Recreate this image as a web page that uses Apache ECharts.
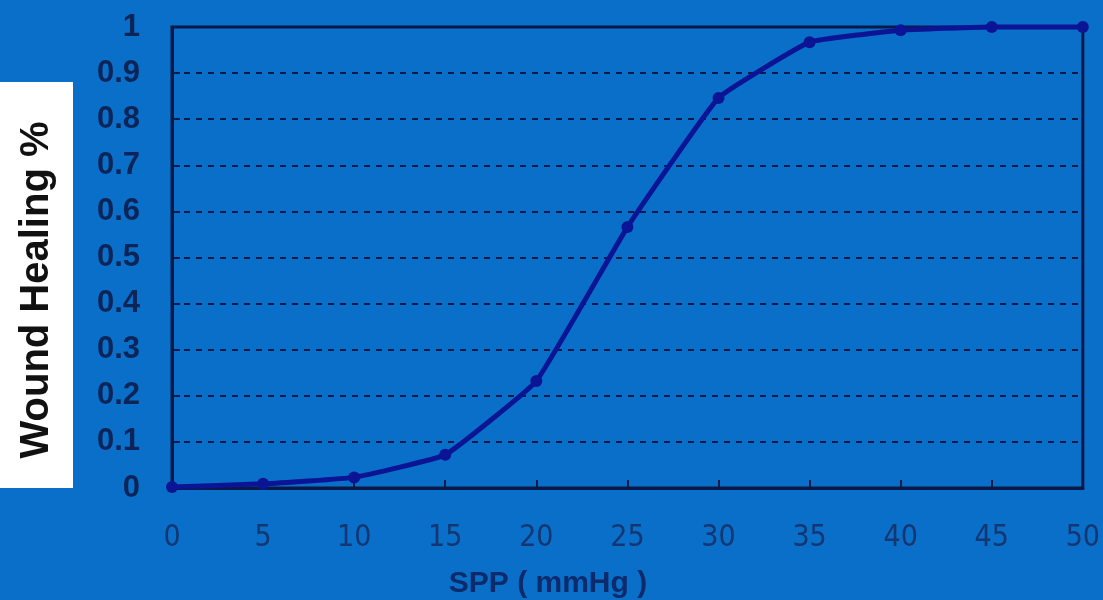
<!DOCTYPE html>
<html>
<head>
<meta charset="utf-8">
<script src="https://cdn.jsdelivr.net/npm/echarts@6/dist/echarts.min.js"></script>
<style>
  html, body { margin: 0; padding: 0; background: #0a6fc8; }
  #main { width: 1103px; height: 600px; }
</style>
</head>
<body>
<div id="main"></div>
<script>
// SPP (mmHg) vs wound healing probability
const sppValues = [0, 5, 10, 15, 20, 25, 30, 35, 40, 45, 50];
const healingValues = [0.002, 0.009, 0.023, 0.072, 0.232, 0.566, 0.846, 0.967, 0.993, 1.0, 1.0];

const chart = echarts.init(document.getElementById('main'));

const option = {
  backgroundColor: '#0a6fc8',
  animation: false,
  grid: {
    left: 172, right: 20, top: 27, bottom: 112,
    show: true,
    borderColor: '#0a1a48',
    borderWidth: 3
  },
  xAxis: {
    type: 'value',
    min: 0, max: 50, interval: 5,
    axisLine: { lineStyle: { color: '#0a1a48', width: 3 } },
    axisTick: { inside: true, length: 8, lineStyle: { color: '#0a1a48', width: 2 } },
    axisLabel: { margin: 35, color: '#143672', fontSize: 30, fontFamily: 'Liberation Sans Narrow, DejaVu Sans Condensed, sans-serif' },
    splitLine: { show: false }
  },
  yAxis: {
    type: 'value',
    min: 0, max: 1, interval: 0.1,
    axisLine: { show: true, lineStyle: { color: '#0a1a48', width: 3 } },
    axisTick: { show: true, inside: true, length: 8, lineStyle: { color: '#0a1a48', width: 2 } },
    axisLabel: {
      margin: 32, color: '#0c2458', fontSize: 31, fontWeight: 'bold',
      fontFamily: 'Liberation Sans, Arial',
      formatter: v => (Math.round(v * 10) / 10).toString()
    },
    splitLine: { show: true, lineStyle: { color: '#0a1a48', type: [6, 6], width: 2 } }
  },
  graphic: [
    { type: 'rect', left: 0, top: 82, shape: { width: 73, height: 406 }, style: { fill: '#ffffff' }, z: 10 },
    {
      type: 'text', x: 37, y: 290, rotation: Math.PI / 2, z: 11,
      style: {
        text: 'Wound Healing %', fill: '#111111', fontSize: 40, fontWeight: 'bold',
        fontFamily: 'Liberation Sans, Arial', align: 'center', verticalAlign: 'middle'
      }
    },
    {
      type: 'text', x: 548, y: 584, z: 11,
      style: {
        text: 'SPP ( mmHg )', fill: '#0d2a6a', fontSize: 30, fontWeight: 'bold',
        fontFamily: 'Liberation Sans, Arial', align: 'center', verticalAlign: 'middle'
      }
    }
  ],
  series: [{
    type: 'line',
    data: sppValues.map((x, i) => [x, healingValues[i]]),
    smooth: 0.1,
    symbol: 'circle',
    symbolSize: 12,
    lineStyle: { color: '#0b1494', width: 5 },
    itemStyle: { color: '#0b1494' },
    clip: false
  }]
};

chart.setOption(option);
</script>
</body>
</html>
